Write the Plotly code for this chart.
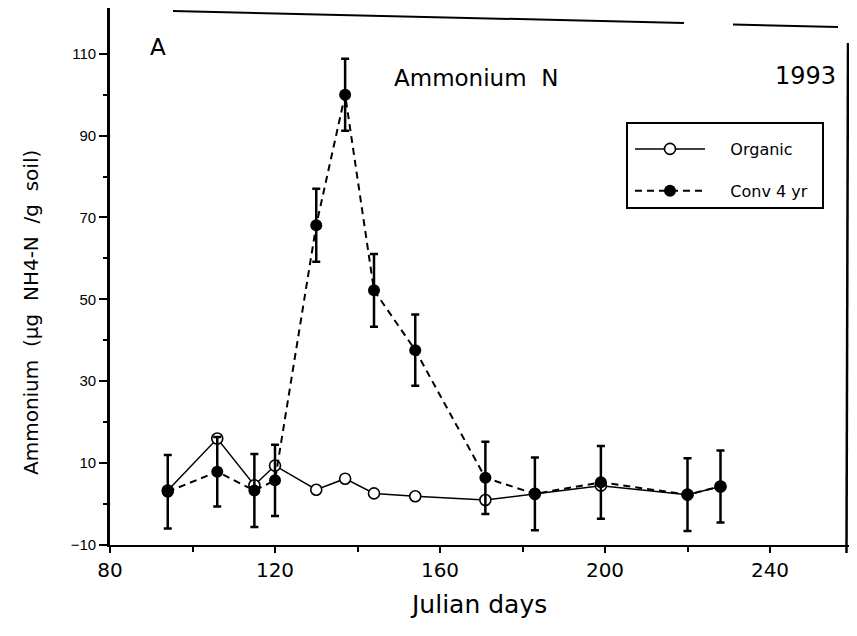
import plotly.graph_objects as go

# ---- data ----
days = [94, 106, 115, 120, 130, 137, 144, 154, 171, 183, 199, 220, 228]
organic = [3.3, 16.0, 4.6, 9.4, 3.5, 6.2, 2.6, 1.9, 1.0, 2.5, 4.5, 2.3, 4.3]
conv = [3.0, 7.9, 3.3, 5.8, 68.1, 100.0, 52.2, 37.6, 6.4, 2.5, 5.3, 2.3, 4.3]
conv_err = [9.0, 8.5, 8.9, 8.7, 8.9, 8.8, 8.9, 8.7, 8.8, 8.9, 8.9, 8.9, 8.8]

x_ticks = [80, 120, 160, 200, 240]
y_ticks = [-10, 10, 30, 50, 70, 90, 110]

# the page body adds an 8px margin on every side; keep the figure inside
OFF = 8
W, H = 857 - 2 * OFF, 636 - 2 * OFF
# plot area in window pixels: x 110..849, y 8..545
PL, PR, PT, PB = 110, 849, 8, 545
L, T = PL - OFF, PT - OFF
R, B = W - (PR - OFF), H - (PB - OFF)
PW, PH = PR - PL, PB - PT


def px(x):
    return (x - PL) / PW


def py(y):
    return (PB - y) / PH


FONT = "DejaVu Sans"

fig = go.Figure()
fig.add_trace(go.Scatter(
    x=days, y=organic, name="    Organic", mode="lines+markers",
    line=dict(color="black", width=1.5),
    marker=dict(symbol="circle", size=11, color="white",
                line=dict(color="black", width=1.6)),
    legendgroup="org",
))
fig.add_trace(go.Scatter(
    x=days, y=conv, name="    Conv 4 yr", mode="lines+markers",
    line=dict(color="black", width=2, dash="7px,5px"),
    marker=dict(symbol="circle", size=12, color="black"),
    error_y=dict(type="data", array=conv_err, color="black",
                 thickness=2.5, width=4),
    legendgroup="conv",
))

shapes = [
    # scanned frame: top and right border lines
    dict(type="line", xref="paper", yref="paper",
         x0=px(173), y0=py(11), x1=px(684), y1=py(23),
         line=dict(color="black", width=2)),
    dict(type="line", xref="paper", yref="paper",
         x0=px(733), y0=py(24.5), x1=px(838), y1=py(27),
         line=dict(color="black", width=2)),
    dict(type="line", xref="paper", yref="paper",
         x0=px(848), y0=py(43), x1=px(846.5), y1=py(553),
         line=dict(color="black", width=2.5)),
    # legend box
    dict(type="rect", xref="paper", yref="paper",
         x0=px(627), y0=py(123), x1=px(823), y1=py(208),
         line=dict(color="black", width=2), fillcolor="rgba(0,0,0,0)"),
]


def note(text, x, y, size, angle=0):
    return dict(text=text, x=px(x), y=py(y), xref="paper", yref="paper",
                xanchor="center", yanchor="middle", textangle=angle,
                showarrow=False, font=dict(family=FONT, size=size, color="black"))


annotations = [
    note("A", 158, 47, 23),
    note("Ammonium  N", 476, 78, 23),
    note("1993", 805, 76, 24),
    note("Julian days", 478, 604, 25),
    note("Ammonium  (µg  NH4-N  /g  soil)", 31, 313, 20, -90),
]

fig.update_layout(
    width=W, height=H,
    margin=dict(l=L, r=R, t=T, b=B),
    paper_bgcolor="white", plot_bgcolor="white",
    showlegend=True,
    legend=dict(x=px(630), y=py(132), xanchor="left", yanchor="top",
                bgcolor="rgba(0,0,0,0)", borderwidth=0,
                font=dict(family=FONT, size=16, color="black"),
                itemwidth=70, tracegroupgap=18, traceorder="grouped"),
    shapes=shapes,
    annotations=annotations,
    xaxis=dict(range=[80, 80 + PW / 4.125], tickvals=x_ticks,
               showgrid=False, zeroline=False,
               showline=True, linecolor="black", linewidth=1.8,
               ticks="outside", ticklen=6, tickwidth=2, tickcolor="black",
               tickfont=dict(family=FONT, size=20, color="black"),
               minor=dict(tickvals=[100, 140, 180, 220], ticks="outside",
                          ticklen=5, tickwidth=2, tickcolor="black")),
    yaxis=dict(range=[-10, -10 + PH / 4.094],
               tickvals=y_ticks,
               showgrid=False, zeroline=False,
               showline=True, linecolor="black", linewidth=2.8,
               ticks="outside", ticklen=8, tickwidth=1.5, tickcolor="black",
               tickfont=dict(family="Liberation Sans", size=15, color="black"),
               minor=dict(tickvals=[0, 20, 40, 60, 80, 100], ticks="outside",
                          ticklen=4, tickwidth=1.5, tickcolor="black")),
)

fig.write_html("out.html")
